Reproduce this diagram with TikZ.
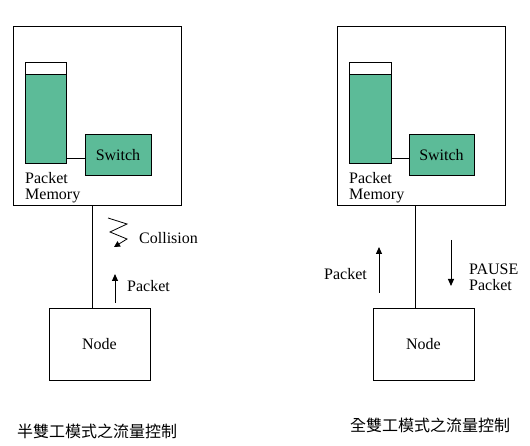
\documentclass[tikz,border=0pt]{standalone}
\usepackage{fontspec}
\setmainfont{Liberation Serif}
\newfontfamily\cjk{Noto Sans CJK TC}
\usetikzlibrary{arrows.meta}
\definecolor{memgreen}{RGB}{92,187,152}
\tikzset{
  box/.style={draw,line width=1pt,inner sep=0pt,outer sep=0pt,rectangle},
  lbl/.style={font=\fontsize{16}{16}\selectfont,inner sep=0pt},
  ttl/.style={font=\cjk\fontsize{16}{18}\selectfont,inner sep=0pt},
  conn/.style={line width=1pt},
  arr/.style={line width=1pt,-{Triangle[length=7pt,width=6pt]}}
}
\begin{document}
\begin{tikzpicture}[x=1pt,y=-1pt]
\useasboundingbox (0,0) rectangle (530,446);
% ---------- left: half duplex ----------
\node[box,minimum width=168,minimum height=179] (boxL) at (97,116.5) {};
\draw[line width=1pt] (25,63) rectangle (66,164);
\draw[line width=1pt,fill=memgreen] (25,75) rectangle (66,164);
\coordinate (memLe) at (66,159);
\node[box,fill=memgreen,minimum width=66,minimum height=41,lbl] (swL) at (118,155.5) {Switch};
\draw[conn] (memLe) -- (memLe -| swL.west);
\node[lbl,anchor=north west,align=left] (pmL) at (25,172) {Packet\\Memory};
\node[box,minimum width=101,minimum height=71,lbl] (nodeL) at (99.5,344.5) {Node};
\coordinate (linkL) at (92,0);
\draw[conn] (boxL.south -| linkL) -- (nodeL.north -| linkL);
\coordinate (zz0) at (108,218);
\coordinate (zz4) at (114,247);
\draw[line width=0.8pt,-{Triangle[length=6pt,width=6pt]}] (zz0) -- (127,224) -- (110,232) -- (127,239) -- (zz4);
\node[lbl,anchor=west] (colL) at (139,238) {Collision};
\coordinate (pL0) at (115,303);
\coordinate (pL1) at (115,274);
\draw[arr] (pL0) -- (pL1);
\node[lbl,anchor=west] (pktL) at (127,286) {Packet};
\node[ttl] (ttlL) at (97,431) {半雙工模式之流量控制};
% ---------- right: full duplex ----------
\node[box,minimum width=168,minimum height=179] (boxR) at (421,116.5) {};
\draw[line width=1pt] (349,63) rectangle (391,164);
\draw[line width=1pt,fill=memgreen] (349,75) rectangle (391,164);
\coordinate (memRe) at (391,159);
\node[box,fill=memgreen,minimum width=65,minimum height=41,lbl] (swR) at (441.5,155.5) {Switch};
\draw[conn] (memRe) -- (memRe -| swR.west);
\node[lbl,anchor=north west,align=left] (pmR) at (349,172) {Packet\\Memory};
\node[box,minimum width=101,minimum height=71,lbl] (nodeR) at (423.5,344.5) {Node};
\coordinate (linkR) at (415,0);
\draw[conn] (boxR.south -| linkR) -- (nodeR.north -| linkR);
\coordinate (pR0) at (379,293);
\coordinate (pR1) at (379,247);
\draw[arr] (pR0) -- (pR1);
\node[lbl,anchor=east] (pktR) at (367,274) {Packet};
\coordinate (ps0) at (451,240);
\coordinate (ps1) at (451,286);
\draw[arr] (ps0) -- (ps1);
\node[lbl,anchor=west,align=left] (pause) at (469,277) {PAUSE\\Packet};
\node[ttl] (ttlR) at (430,425) {全雙工模式之流量控制};
\end{tikzpicture}
\end{document}
